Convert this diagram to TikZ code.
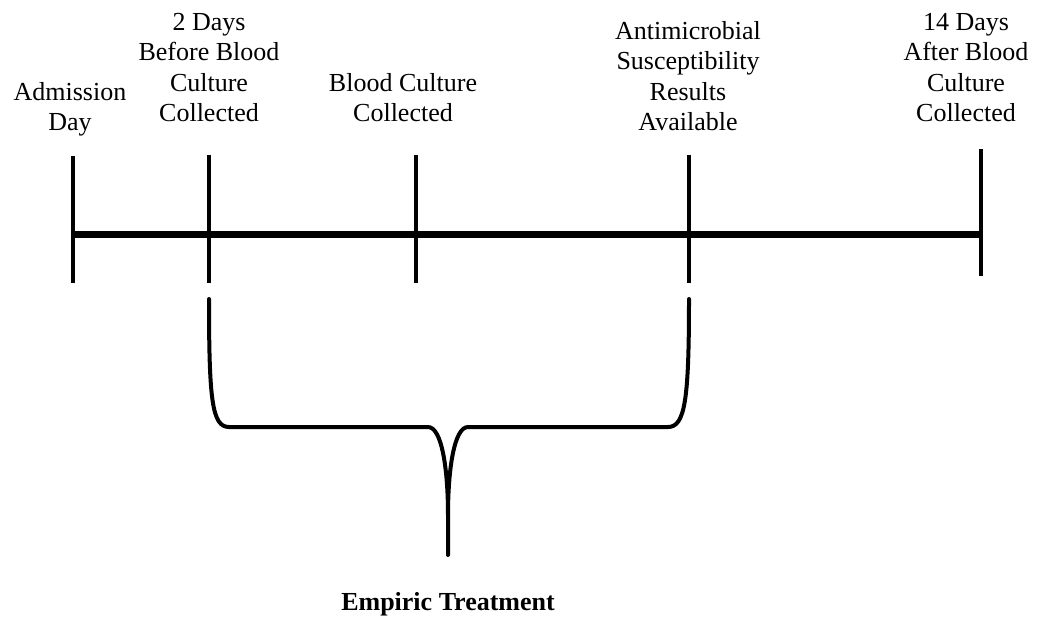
\documentclass[tikz,border=0pt]{standalone}
\usepackage{fontspec}
\setmainfont{Liberation Serif}
\begin{document}
\begin{tikzpicture}[x=1pt,y=-1pt,
  axis/.style={line width=7pt},
  tick/.style={line width=4.5pt},
  bracket/.style={line width=4pt, line join=round, line cap=round},
  lbl/.style={anchor=south, align=center, inner sep=0pt,
    font=\fontsize{26}{30.5}\selectfont},
  title/.style={anchor=base, inner sep=0pt,
    font=\fontsize{26}{31}\selectfont\bfseries}]
\useasboundingbox (0,0) rectangle (1039,620);

% tick end points
\coordinate (a1) at (73,156);  \coordinate (a2) at (73,283);
\coordinate (b1) at (209,155); \coordinate (b2) at (209,283);
\coordinate (c1) at (416,155); \coordinate (c2) at (416,283);
\coordinate (d1) at (689,155); \coordinate (d2) at (689,283);
\coordinate (e1) at (981,149); \coordinate (e2) at (981,276);
\coordinate (start) at (73,234.5);
\coordinate (stop) at (981,234.5);

% time axis and ticks
\draw[axis] (start) -- (stop);
\foreach \t in {a,b,c,d,e} \draw[tick] (\t1) -- (\t2);

% labels
\node[lbl] (admit) at (70,140) {Admission\\Day\strut};
\node[lbl] (before) at (209,131) {2 Days\\Before Blood\\Culture\\Collected\strut};
\node[lbl] (culture) at (403,131) {Blood Culture\\Collected\strut};
\node[lbl] (ast) at (688,140) {Antimicrobial\\Susceptibility\\Results\\Available\strut};
\node[lbl] (after) at (966,131) {14 Days\\After Blood\\Culture\\Collected\strut};

% brace under the empiric window
\coordinate (bl) at (209,299);
\coordinate (br) at (689,299);
\coordinate (tip) at (448,555);
\draw[bracket] (bl) .. controls (209,400) and (212,427) .. (229,427)
  -- (428,427) .. controls (442,427) and (448,470) .. (448,515)
  -- (tip) -- (448,515) .. controls (448,470) and (454,427) .. (468,427)
  -- (668,427) .. controls (685,427) and (689,400) .. (br);

\node[title] (emp) at (448,610) {Empiric Treatment};
\end{tikzpicture}
\end{document}
